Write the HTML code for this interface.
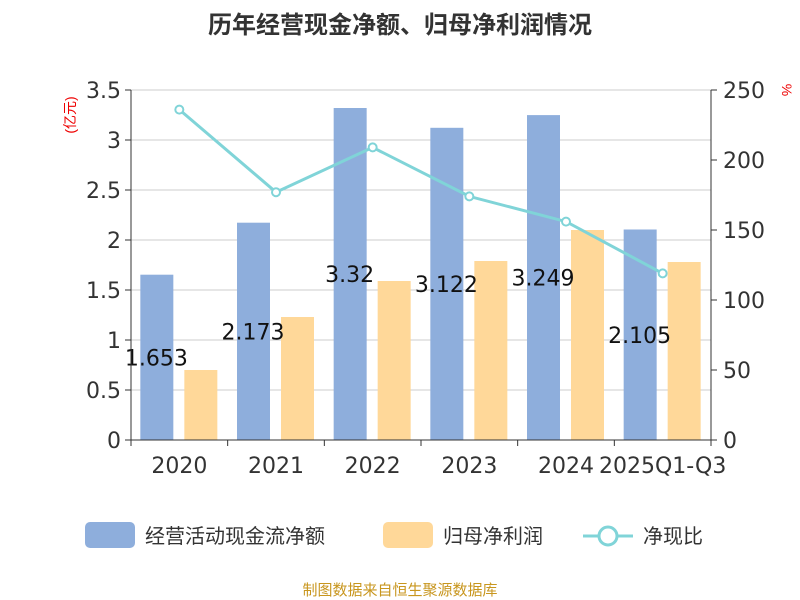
<!DOCTYPE html>
<html><head><meta charset="utf-8"><style>
body{margin:0;background:#fff;}
svg{display:block;font-family:"Liberation Sans","Noto Sans CJK SC",sans-serif;}
.num{font-family:"DejaVu Sans","Liberation Sans",sans-serif;}
</style></head><body>
<svg id="c" width="800" height="600">
<text x="400" y="33" text-anchor="middle" font-size="24" font-weight="bold" fill="#333">历年经营现金净额、归母净利润情况</text>
<text transform="translate(75,115) rotate(-90)" text-anchor="middle" font-size="14" fill="#e00">(亿元)</text>
<text transform="translate(782,90) rotate(90)" text-anchor="middle" font-size="14" fill="#e00">%</text>
<g id="grid"></g><g id="bars"></g><g id="line"></g><g id="axes"></g>
<g>
<rect x="85" y="522" width="50" height="26" rx="5" fill="#8eaedc"/>
<text x="145" y="543" font-size="20" fill="#333">经营活动现金流净额</text>
<rect x="383" y="522" width="50" height="26" rx="5" fill="#ffd899"/>
<text x="443" y="543" font-size="20" fill="#333">归母净利润</text>
<line x1="583" y1="536" x2="633" y2="536" stroke="#80d4d8" stroke-width="3"/>
<circle cx="608" cy="536" r="9" fill="#fff" stroke="#80d4d8" stroke-width="3"/>
<text x="643" y="543" font-size="20" fill="#333">净现比</text>
</g>
<text x="400" y="595" text-anchor="middle" font-size="15" fill="#c8961e">制图数据来自恒生聚源数据库</text>
</svg>
<script>
const categories=["2020","2021","2022","2023","2024","2025Q1-Q3"];
const cashFlow=[1.653,2.173,3.32,3.122,3.249,2.105];
const netProfit=[0.70,1.23,1.59,1.79,2.10,1.78];
const ratio=[236,177,209,174,156,119];
const leftTicks=[0,0.5,1,1.5,2,2.5,3,3.5];
const rightTicks=[0,50,100,150,200,250];
const NS="http://www.w3.org/2000/svg";
const X0=131,X1=711,Y0=440,Y1=90;
const bw=(X1-X0)/categories.length;
const yL=v=>Y0-(v/3.5)*(Y0-Y1);
const yR=v=>Y0-(v/250)*(Y0-Y1);
const xc=i=>X0+bw*(i+0.5);
function mk(tag,attrs,parent,text){const e=document.createElementNS(NS,tag);for(const k in attrs)e.setAttribute(k,attrs[k]);if(text!==undefined)e.textContent=text;document.getElementById(parent).appendChild(e);return e;}
leftTicks.forEach(t=>{
 const l=mk('line',{x1:X0,x2:X1,y1:yL(t),y2:yL(t),stroke:'#ccc','stroke-width':1},'grid');
 
 
 const tx=mk('text',{x:X0-10,y:yL(t)+8,'text-anchor':'end','font-size':22,fill:'#333','class':'num'},'axes',String(t));
 
 
 const tk=mk('line',{x1:X0-6,x2:X0,y1:yL(t),y2:yL(t),stroke:'#333'},'axes');
 
 
});
rightTicks.forEach(t=>{
 const tx=mk('text',{x:X1+12,y:yR(t)+8,'font-size':22,fill:'#333','class':'num'},'axes',String(t));
 
 
 const tk=mk('line',{x1:X1,x2:X1+6,y1:yR(t),y2:yR(t),stroke:'#333'},'axes');
 
 
});
let a=mk('line',{x1:X0,x2:X0,y1:Y1,y2:Y0,stroke:'#333'},'axes');


a=mk('line',{x1:X1,x2:X1,y1:Y1,y2:Y0,stroke:'#333'},'axes');


a=mk('line',{x1:X0,x2:X1,y1:Y0,y2:Y0,stroke:'#333'},'axes');


for(let i=0;i<=categories.length;i++){
 const tk=mk('line',{x1:X0+bw*i,x2:X0+bw*i,y1:Y0,y2:Y0+6,stroke:'#333'},'axes');
 
 
}
categories.forEach((c,i)=>{
 const tx=mk('text',{x:xc(i),y:473,'text-anchor':'middle','font-size':22,fill:'#333','class':'num'},'axes',c);
 
 
 const b=mk('rect',{x:xc(i)-39,y:yL(cashFlow[i]),width:33,height:Y0-yL(cashFlow[i]),fill:'#8eaedc'},'bars');
 
 
 const o=mk('rect',{x:xc(i)+5,y:yL(netProfit[i]),width:33,height:Y0-yL(netProfit[i]),fill:'#ffd899'},'bars');
 
 
});
categories.forEach((c,i)=>{
 const t=mk('text',{x:xc(i)-23,y:(yL(cashFlow[i])+Y0)/2+8,'text-anchor':'middle','font-size':22,fill:'#111','class':'num'},'bars',String(cashFlow[i]));
 
 
});
const pl=mk('polyline',{points:ratio.map((v,i)=>xc(i)+','+yR(v)).join(' '),fill:'none',stroke:'#80d4d8','stroke-width':3},'line');


ratio.forEach((v,i)=>{
 const p=mk('circle',{cx:xc(i),cy:yR(v),r:4,fill:'#fff',stroke:'#80d4d8','stroke-width':2},'line');
 
 
});
</script>
</body></html>
